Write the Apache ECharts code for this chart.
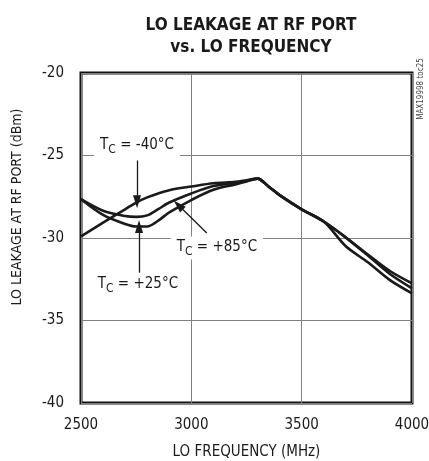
<!DOCTYPE html>
<html>
<head>
<meta charset="utf-8">
<script src="https://cdn.jsdelivr.net/npm/echarts@6/dist/echarts.min.js"></script>
<style>
  html, body { margin: 0; padding: 0; background: #fff; }
  #chart { width: 429px; height: 461px; }
</style>
</head>
<body>
<div id="chart"></div>
<script>
//  LO leakage vs LO frequency, three case temperatures
const freqMHz = [2500, 2600, 2700, 2750, 2800, 2850, 2900, 3000, 3100, 3200, 3250, 3300, 3350, 3400, 3500, 3600, 3700, 3800, 3900, 4000];
const leakM40 = [-29.9, -29.07, -28.26, -27.85, -27.54, -27.3, -27.1, -26.88, -26.68, -26.6, -26.5, -26.4, -26.88, -27.4, -28.26, -29.0, -30.5, -31.47, -32.55, -33.35];
const leakP25 = [-27.65, -28.6, -29.15, -29.3, -29.3, -28.95, -28.45, -27.7, -27.08, -26.75, -26.57, -26.4, -26.88, -27.4, -28.26, -29.0, -29.95, -31.0, -32.0, -32.75];
const leakP85 = [-27.65, -28.35, -28.67, -28.72, -28.63, -28.25, -27.85, -27.3, -26.85, -26.66, -26.55, -26.4, -26.88, -27.4, -28.26, -29.0, -29.98, -31.06, -32.18, -33.05];

const xTicks = { min: 2500, max: 4000, interval: 500 };
const yTicks = { min: -40, max: -20, interval: 5 };

//  注释：文字位置、箭头起点和终点（数据坐标）
const labelTexts = ['-40°C', '+85°C', '+25°C'];
const labelAt = [[2754, -24.45], [3116, -30.6], [2758, -32.85]];
const arrowFrom = [[2754, -25.3], [3070, -29.7], [2763, -32.1]];
const arrowTo = [[2754, -27.8], [2941, -28.0], [2763, -29.3]];

const FONT = "'Liberation Sans Narrow', 'DejaVu Sans Condensed', 'Liberation Sans', sans-serif";

function pairs(ys) {
    return freqMHz.map(function (f, i) { return [f, ys[i]]; });
}

function curve(name, ys) {
    return {
        name: name,
        type: 'line',
        data: pairs(ys),
        smooth: 0.3,
        showSymbol: false,
        lineStyle: { color: '#1a1a1a', width: 2.6 },
        z: 3
    };
}

const series = [
    curve('TC = -40°C', leakM40),
    curve('TC = +25°C', leakP25),
    curve('TC = +85°C', leakP85),
    //  箭头 + 标签
    {
        type: 'line',
        data: [],
        silent: true,
        z: 5,
        markLine: {
            silent: true,
            symbol: ['none', 'triangle'],
            symbolSize: [8, 13],
            lineStyle: { color: '#1a1a1a', width: 1.3, type: 'solid' },
            label: { show: false },
            data: arrowFrom.map(function (p, i) {
                return [{ coord: p }, { coord: arrowTo[i] }];
            })
        },
        markPoint: {
            silent: true,
            symbol: 'rect',
            symbolSize: 0,
            data: labelAt.map(function (p, i) {
                return {
                    coord: p,
                    label: {
                        show: true,
                        position: 'inside',
                        backgroundColor: '#fff',
                        padding: [3, 6, 2, 6],
                        formatter: '{t|T}{s|C}{t| = ' + labelTexts[i] + '}',
                        rich: {
                            t: { fontFamily: FONT, fontSize: 15, color: '#1a1a1a', lineHeight: 18, verticalAlign: 'top' },
                            s: { fontFamily: FONT, fontSize: 12, color: '#1a1a1a', lineHeight: 18, padding: [6, 0, 0, 0], verticalAlign: 'top' }
                        }
                    }
                };
            })
        }
    }
];

const myChart = echarts.init(document.getElementById('chart'), null, { renderer: 'canvas' });
myChart.setOption({
    backgroundColor: '#fff',
    animation: false,
    title: {
        text: 'LO LEAKAGE AT RF PORT\nvs. LO FREQUENCY',
        left: 246,
        top: 10,
        textAlign: 'center',
        textStyle: { fontFamily: FONT, fontWeight: 'bold', fontSize: 17, lineHeight: 22, color: '#1a1a1a' }
    },
    grid: {
        left: 81, right: 17, top: 73, bottom: 58,
        outerBoundsMode: 'none',
        containLabel: false,
        show: true, borderColor: '#111', borderWidth: 3, backgroundColor: 'transparent'
    },
    xAxis: {
        type: 'value',
        min: xTicks.min, max: xTicks.max, interval: xTicks.interval,
        name: 'LO FREQUENCY (MHz)',
        nameLocation: 'middle',
        nameGap: 42,
        nameTextStyle: { fontFamily: FONT, fontSize: 15, color: '#1a1a1a' },
        axisLine: { show: false },
        axisTick: { show: false },
        axisLabel: {
            fontFamily: FONT, fontSize: 15, color: '#1a1a1a', margin: 15,
            formatter: function (v) { return String(v); }
        },
        splitLine: { show: true, lineStyle: { color: '#808080', width: 1 } }
    },
    yAxis: {
        type: 'value',
        min: yTicks.min, max: yTicks.max, interval: yTicks.interval,
        axisLine: { show: false },
        axisTick: { show: false },
        axisLabel: { fontFamily: FONT, fontSize: 15, color: '#1a1a1a', margin: 17 },
        splitLine: { show: true, lineStyle: { color: '#808080', width: 1 } }
    },
    graphic: [
        {
            type: 'text',
            x: 17, y: 207,
            rotation: Math.PI / 2,
            style: {
                text: 'LO LEAKAGE AT RF PORT (dBm)',
                fontFamily: FONT, fontSize: 14, fill: '#1a1a1a',
                align: 'center', verticalAlign: 'middle'
            }
        },
        {
            type: 'text',
            x: 421, y: 89,
            rotation: Math.PI / 2,
            style: {
                text: 'MAX19998 toc25',
                fontFamily: FONT, fontSize: 8, fill: '#444',
                align: 'center', verticalAlign: 'middle'
            }
        }
    ],
    series: series
});
</script>
</body>
</html>
